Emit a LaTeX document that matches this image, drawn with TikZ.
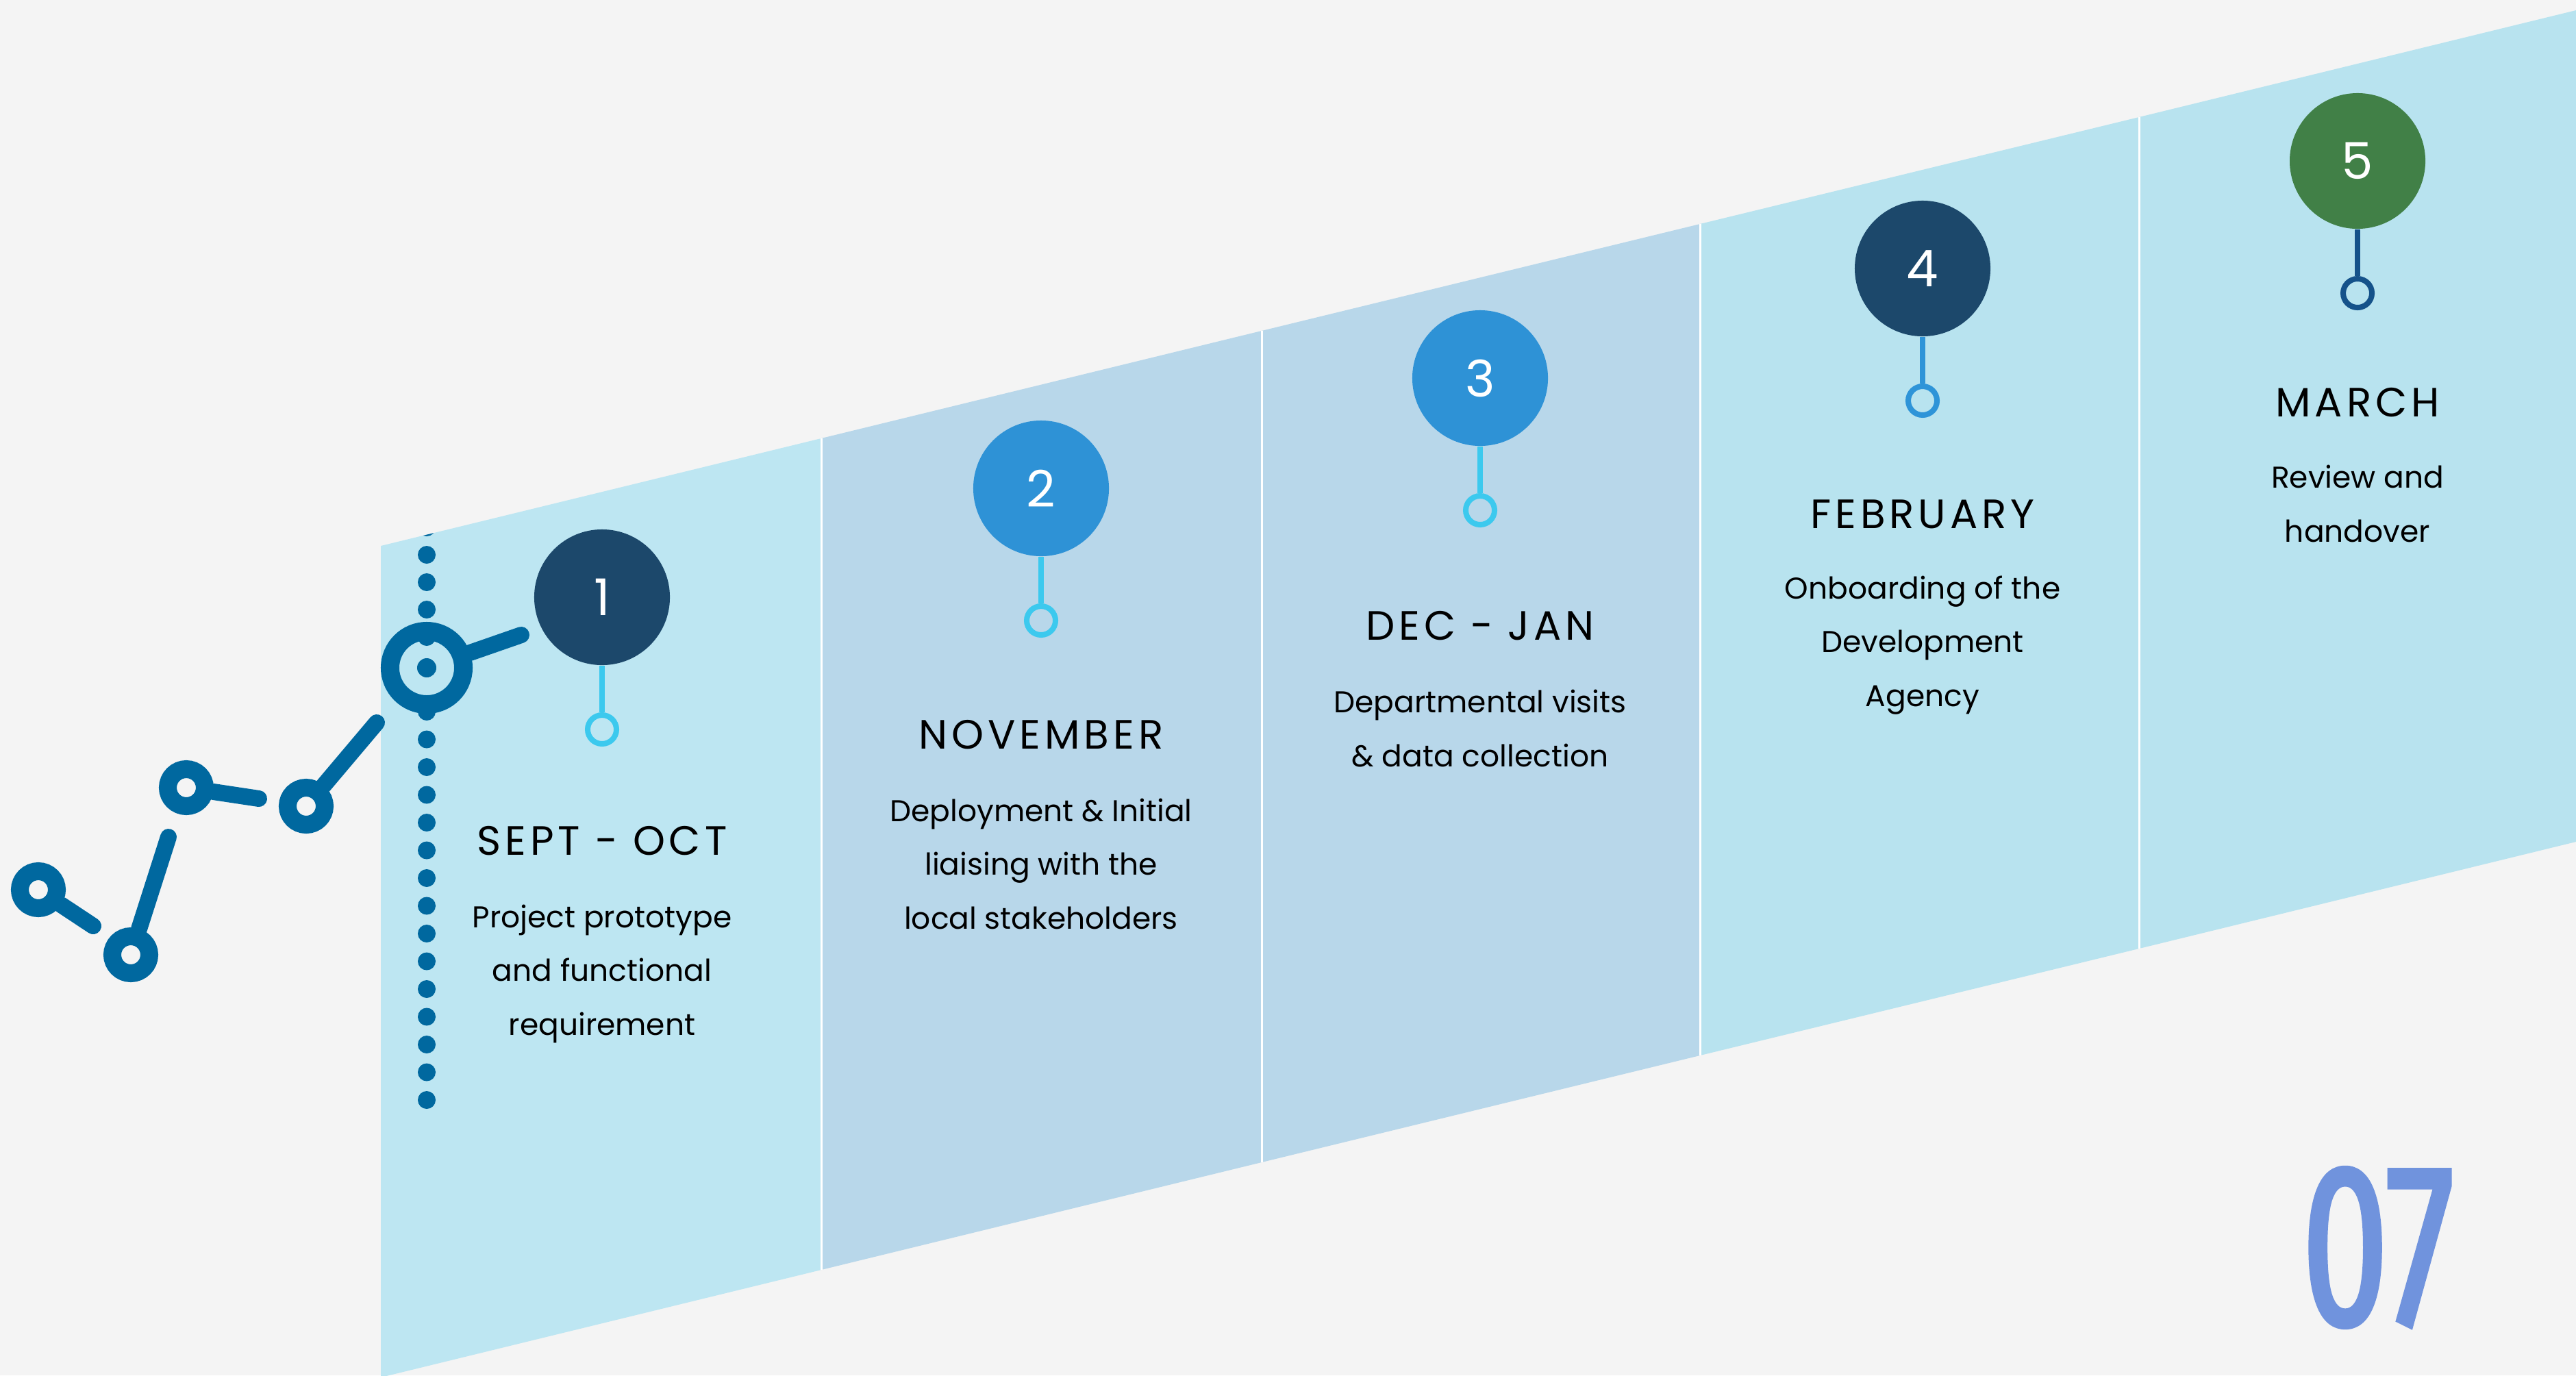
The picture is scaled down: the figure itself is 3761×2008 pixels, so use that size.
\documentclass[tikz,border=0pt]{standalone}
\usepackage{fontspec}
\setmainfont{Poppins}
\newfontfamily\headfont{Poppins}[LetterSpace=10]
\newfontfamily\pagefont{Fira Sans}[FakeStretch=0.67,FakeBold=1.8]
\definecolor{bgcolor}{HTML}{F4F4F4}
\definecolor{paneA}{HTML}{BDE6F2}
\definecolor{paneB}{HTML}{B8D7EA}
\definecolor{paneC}{HTML}{B8E3EF}
\definecolor{navy}{HTML}{1C486B}
\definecolor{midblue}{HTML}{2E92D6}
\definecolor{leaf}{HTML}{418047}
\definecolor{cyanring}{HTML}{3CC9EE}
\definecolor{bluering}{HTML}{2E94D8}
\definecolor{darkring}{HTML}{15528A}
\definecolor{chainblue}{HTML}{00689F}
\definecolor{numblue}{HTML}{7093DD}
\begin{document}
\begin{tikzpicture}[x=0.01cm,y=-0.01cm,
    phase/.style={circle,fill=#1,minimum size=1.98cm,inner sep=0pt,text=white,font=\fontsize{21}{21}\selectfont},
    knob/.style={circle,draw=#1,line width=0.8mm,minimum size=0.42cm,inner sep=0pt},
    stem/.style={draw=#1,line width=0.8mm},
    month/.style={anchor=base,font=\headfont\fontsize{17}{17}\selectfont},
    task/.style={anchor=base,align=center,font=\fontsize{12.5}{22.2}\selectfont},
    link/.style={circle,draw=chainblue,line width=2.6mm,minimum size=0.54cm,inner sep=0pt},
    bar/.style={draw=chainblue,line width=2.4mm,line cap=round}]
    \useasboundingbox (0,0) rectangle (3761,2008);
    \clip (0,0) rectangle (3761,2008);
    \fill[bgcolor] (0,0) rectangle (3761,2008);
    % sloped band
    \fill[paneA] (556,797) -- (1199,640) -- (1199,1854) -- (556,2011) -- cycle;
    \fill[paneB] (1199,640) -- (1842,483) -- (1842,1697) -- (1199,1854) -- cycle;
    \fill[paneB] (1842,483) -- (2482,327) -- (2482,1541) -- (1842,1697) -- cycle;
    \fill[paneC] (2482,327) -- (3123,171) -- (3123,1385) -- (2482,1541) -- cycle;
    \fill[paneC] (3123,171) -- (3761,15) -- (3761,1229) -- (3123,1385) -- cycle;
    \draw[white,line width=0.85pt] (1199,640) -- (1199,1854);
    \draw[white,line width=0.85pt] (1842,483) -- (1842,1697);
    \draw[white,line width=0.85pt] (2482,327) -- (2482,1541);
    \draw[white,line width=0.85pt] (3123,171) -- (3123,1385);
    % dotted line
    \begin{scope}
        \clip (556,797) -- (1199,640) -- (1199,1854) -- (556,2011) -- cycle;
        \foreach \y in {770,810,...,930}
            \fill[chainblue] (623,\y) circle (0.13cm);
        \foreach \y in {1039,1079.5,...,1607}
            \fill[chainblue] (623,\y) circle (0.13cm);
    \end{scope}
    \fill[chainblue] (623,975) circle (0.14cm);
    % chain
    \node[link] (a) at (56,1299) {};
    \node[link] (b) at (191,1394) {};
    \node[link] (c) at (272,1150) {};
    \node[link] (d) at (447,1177) {};
    \node[link,minimum size=1.07cm,line width=2.7mm] (e) at (623,975) {};
    \coordinate (a1) at (136,1352);
    \coordinate (b1) at (246,1222);
    \coordinate (c1) at (378,1166);
    \coordinate (d1) at (550,1055);
    \coordinate (e1) at (761,927);
    \draw[bar] (a) -- (a1);
    \draw[bar] (b) -- (b1);
    \draw[bar] (c) -- (c1);
    \draw[bar] (d) -- (d1);
    \draw[bar] (e) -- (e1);
    % milestones
    \node[phase=navy] (p1) at (879,872) {1};
    \node[knob=cyanring] (k1) at (879,1065) {};
    \draw[stem=cyanring] (p1) -- (k1);
    \node[phase=midblue] (p2) at (1520,713) {2};
    \node[knob=cyanring] (k2) at (1520,906) {};
    \draw[stem=cyanring] (p2) -- (k2);
    \node[phase=midblue] (p3) at (2161,552) {3};
    \node[knob=cyanring] (k3) at (2161,745) {};
    \draw[stem=cyanring] (p3) -- (k3);
    \node[phase=navy] (p4) at (2807,392) {4};
    \node[knob=bluering] (k4) at (2807,585) {};
    \draw[stem=bluering] (p4) -- (k4);
    \node[phase=leaf] (p5) at (3442,235) {5};
    \node[knob=darkring] (k5) at (3442,428) {};
    \draw[stem=darkring] (p5) -- (k5);
    % labels (base = last line)
    \node[month] (m1) at (879,1248) {SEPT - OCT};
    \node[task] (t1) at (879,1511) {Project prototype\\and functional\\requirement};
    \node[month] (m2) at (1520,1093) {NOVEMBER};
    \node[task] (t2) at (1520,1356) {Deployment \& Initial\\liaising with the\\local stakeholders};
    \node[month] (m3) at (2161,934) {DEC - JAN};
    \node[task] (t3) at (2161,1119) {Departmental visits\\\& data collection};
    \node[month] (m4) at (2807,771) {FEBRUARY};
    \node[task] (t4) at (2807,1031) {Onboarding of the\\Development\\Agency};
    \node[month] (m5) at (3442,608) {MARCH};
    \node[task] (t5) at (3442,791) {Review and\\handover};
    \node[anchor=base,inner sep=0pt,text=numblue,font=\pagefont\fontsize{96}{96}\selectfont] (pg) at (3472,1934) {07};
\end{tikzpicture}
\end{document}
